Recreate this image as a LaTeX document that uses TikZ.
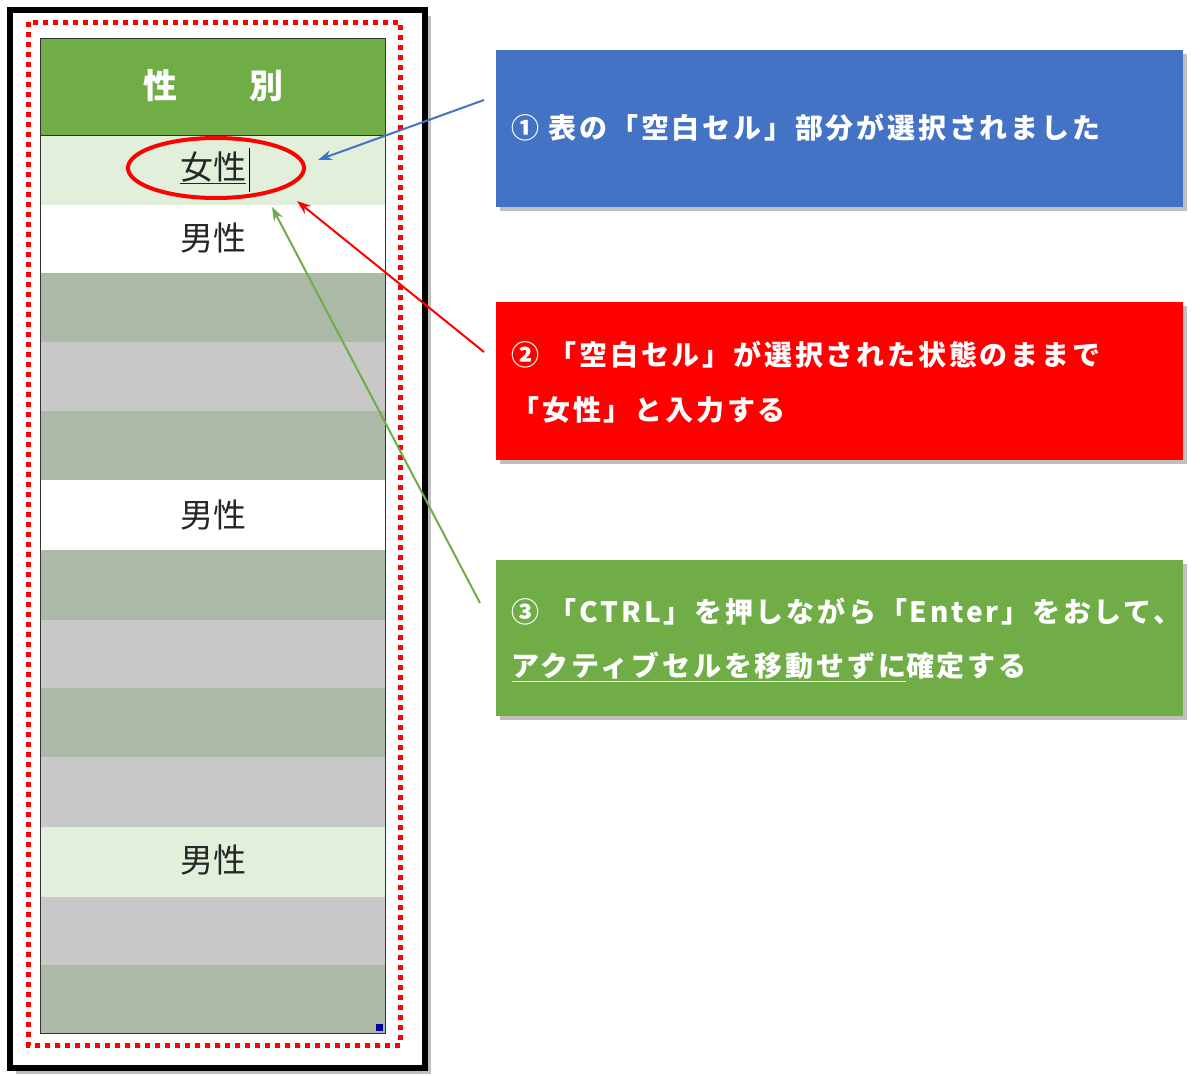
\documentclass[tikz,border=0pt]{standalone}
\usepackage{fontspec}
\newfontfamily\jp{Noto Sans CJK JP}
\newfontfamily\jpw[LetterSpace=10]{Noto Sans CJK JP}
\usetikzlibrary{arrows.meta,shapes.geometric}
\definecolor{hdr}{HTML}{70AD47}
\definecolor{lg}{HTML}{E2EFDA}
\definecolor{gg}{HTML}{ADB9A7}
\definecolor{gy}{HTML}{C8C8C8}
\definecolor{bbox}{HTML}{4472C4}
\definecolor{rbox}{HTML}{FF0000}
\definecolor{gbox}{HTML}{70AD47}
\tikzset{
 cellline/.style={draw=hdr!70,line width=1pt},
 celltxt/.style={font=\jp\fontsize{33}{33}\selectfont,text=black!85},
 boxtxt/.style={font=\jpw\bfseries\fontsize{28}{28}\selectfont,text=white,anchor=west},
 arr/.style={line width=2pt,-{Stealth[length=14pt,width=10pt]}}
}
\begin{document}
\begin{tikzpicture}[x=1pt,y=-1pt]
\useasboundingbox (0,0) rectangle (1200,1076);
% frame
\fill[black!25] (16,16) rectangle (431,1074);
\draw[line width=6pt,fill=white] (10,10) rectangle (425,1068);
% table rows
\fill[hdr] (40,38) rectangle (385,135);
\node[font=\jp\bfseries\fontsize{34}{34}\selectfont,text=white] (h1) at (160,86) {性};
\node[font=\jp\bfseries\fontsize{34}{34}\selectfont,text=white] (h2) at (266,86) {別};
\foreach \ya/\yb/\c in {135/205/lg,205/273/white,273/342/gg,342/411/gy,411/480/gg,480/550/white,550/620/gg,620/688/gy,688/757/gg,757/827/gy,827/897/lg,897/965/gy,965/1033/gg}{
 \fill[\c] (40,\ya) rectangle (385,\yb);
 \draw[cellline] (40,\yb) -- (385,\yb);
}
\draw[line width=1pt,black!80] (40,38) rectangle (385,1033);
\draw[line width=1pt,black!80] (40,135) -- (385,135);
\fill[blue!60!black] (376,1024) rectangle (383,1031);
\node[celltxt] (f) at (213,168) {\underline{女性}};
\draw[line width=1pt] (249,148) -- (249,192);
\node[celltxt] (m1) at (213,238) {男性};
\node[celltxt] (m2) at (213,515) {男性};
\node[celltxt] (m3) at (213,860) {男性};
% red dotted frame
\draw[red,line width=5pt,dash pattern=on 5pt off 5pt] (28,22) rectangle (400,1045);
% ellipse
\node[draw=red,line width=4pt,ellipse,minimum width=176pt,minimum height=60pt,inner sep=0pt] (el) at (216,168) {};
% boxes
\fill[black!25] (500,54) rectangle (1187,211);
\fill[black!25] (500,306) rectangle (1187,464);
\fill[black!25] (500,564) rectangle (1187,720);
\fill[bbox] (496,50) rectangle (1183,207);
\fill[rbox] (496,302) rectangle (1183,460);
\fill[gbox] (496,560) rectangle (1183,716);
\node[boxtxt] (t1) at (508,128) {① 表の「空白セル」部分が選択されました};
\node[boxtxt] (t2) at (508,355) {② 「空白セル」が選択された状態のままで};
\node[boxtxt] (t2b) at (508,410) {「女性」と入力する};
\node[boxtxt] (t3) at (508,612) {③ 「CTRL」を押しながら「Enter」をおして、};
\node[boxtxt] (t3b) at (508,667) {\underline{アクティブセルを移動せずに}確定する};
% arrows
\coordinate (a1) at (484,100); \coordinate (b1) at (318,160);
\coordinate (a2) at (484,352); \coordinate (b2) at (297,201);
\coordinate (a3) at (480,603); \coordinate (b3) at (272,207);
\draw[arr,bbox] (a1) -- (b1);
\draw[arr,red] (a2) -- (b2);
\draw[arr,gbox] (a3) -- (b3);
\end{tikzpicture}
\end{document}
